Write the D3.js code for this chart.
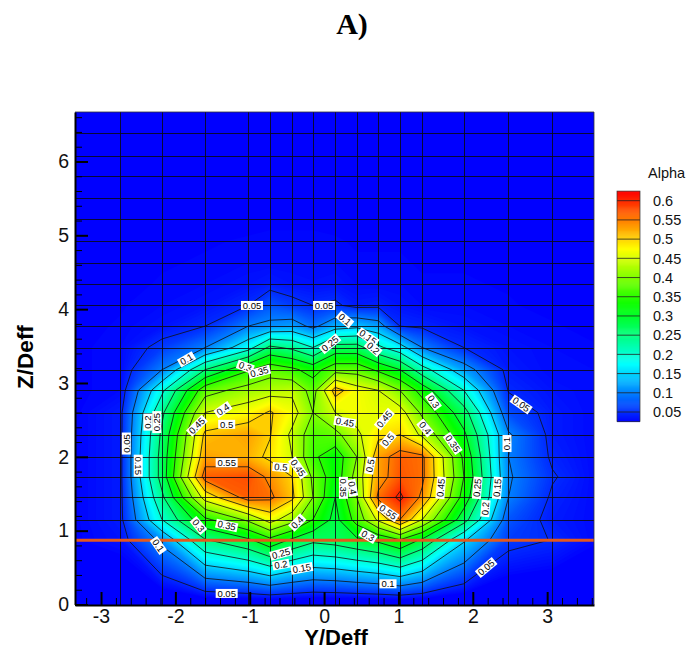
<!DOCTYPE html>
<html><head><meta charset="utf-8">
<script src="https://cdn.jsdelivr.net/npm/d3@7"></script>
<style>html,body{margin:0;padding:0;background:#fff}svg{display:block}text{font-family:"Liberation Sans",Arial,sans-serif}</style>
</head><body><svg id="c" width="690" height="650"></svg>
<script>
const yNodes=[0,.87,1.15,1.45,1.73,2.0,2.3,2.6,2.9,3.18,3.48,3.77,4.05,4.34,4.63,4.92,5.22,5.51,5.8,6.08,6.38,6.67];
const xNodes=[-3.35,-2.745,-2.18,-1.60,-1.02,-.73,-.43,-.15,.15,.44,.73,1.02,1.32,1.88,2.48,3.07,3.63];
const alphaRows=[
[0,0,0,0,0,0,0,0,0,0,0,0,0,0,0,0,0],
[.026,.035,.11,.245,.29,.335,.29,.26,.27,.29,.31,.345,.29,.155,.06,.049,.03],
[.026,.04,.20,.34,.41,.47,.42,.35,.285,.37,.46,.55,.45,.27,.075,.04,.03],
[.026,.04,.24,.47,.57,.56,.51,.40,.30,.40,.56,.61,.54,.33,.10,.045,.03],
[.026,.04,.27,.57,.58,.54,.50,.39,.32,.42,.53,.575,.56,.35,.105,.053,.03],
[.026,.04,.27,.53,.52,.49,.45,.36,.32,.40,.53,.57,.56,.34,.10,.045,.03],
[.026,.04,.26,.51,.53,.503,.44,.37,.385,.44,.49,.50,.44,.31,.105,.04,.03],
[.026,.04,.24,.45,.475,.505,.47,.40,.45,.47,.46,.47,.39,.27,.07,.04,.03],
[.026,.03,.19,.38,.42,.43,.44,.38,.52,.47,.45,.40,.33,.20,.048,.035,.03],
[.026,.03,.10,.25,.345,.38,.36,.33,.38,.38,.34,.30,.22,.12,.04,.03,.03],
[.026,.03,.06,.10,.18,.26,.24,.20,.27,.27,.21,.17,.10,.05,.035,.03,.028],
[.026,.028,.035,.05,.10,.11,.12,.09,.13,.14,.12,.05,.045,.035,.03,.028,.026],
[.026,.027,.03,.035,.05,.075,.06,.05,.055,.04,.043,.035,.03,.03,.028,.026,.026],
[.026,.026,.028,.03,.035,.04,.035,.033,.035,.03,.03,.03,.028,.028,.027,.026,.026],
[.026,.026,.027,.028,.03,.03,.03,.03,.03,.028,.028,.028,.027,.027,.026,.026,.025],
[.025,.026,.026,.027,.028,.028,.028,.028,.028,.027,.027,.027,.026,.026,.026,.025,.025],
[.025,.025,.026,.026,.026,.027,.027,.027,.026,.026,.026,.026,.026,.025,.025,.025,.025],
[.025,.025,.025,.025,.026,.026,.026,.026,.026,.026,.025,.025,.025,.025,.025,.025,.025],
[.025,.025,.025,.025,.025,.025,.025,.025,.025,.025,.025,.025,.025,.025,.025,.025,.025],
[.025,.025,.025,.025,.025,.025,.025,.025,.025,.025,.025,.025,.025,.025,.025,.025,.025],
[.025,.025,.025,.025,.025,.025,.025,.025,.025,.025,.025,.025,.025,.025,.025,.025,.025],
[.025,.025,.025,.025,.025,.025,.025,.025,.025,.025,.025,.025,.025,.025,.025,.025,.025]
];
const contourLevels=[.05,.1,.15,.2,.25,.3,.35,.4,.45,.5,.55,.6];
const xTicks=[-3,-2,-1,0,1,2,3];
const yTicks=[0,1,2,3,4,5,6];
const orangeLineZ=.87;
// [text, Y/Deff, Z/Deff, rotation]
const contourLabels=[
["0.05",-.97,4.05,0],["0.05",0,4.05,0],["0.1",-1.85,3.32,-30],["0.3",-1.06,3.22,20],["0.35",-.87,3.15,-15],
["0.4",-1.36,2.64,-35],["0.45",-1.71,2.42,-45],["0.5",-1.31,2.44,0],["0.2",-2.37,2.47,-90],["0.25",-2.25,2.47,-90],
["0.05",-2.66,2.18,-90],["0.15",-2.50,1.88,90],["0.55",-1.31,1.92,0],["0.5",-.58,1.86,5],["0.45",-.35,1.85,55],
["0.3",-1.69,1.07,50],["0.35",-1.31,1.07,12],["0.4",-.36,1.11,-45],["0.1",-2.23,.8,55],["0.25",-.58,.69,-15],
["0.2",-.58,.54,-10],["0.15",-.3,.49,-10],["0.05",-1.31,.15,0],["0.1",.28,3.86,40],["0.15",.59,3.62,35],
["0.2",.66,3.47,40],["0.25",.08,3.53,-40],["0.3",1.47,2.75,55],["0.45",.28,2.47,10],["0.4",1.36,2.39,50],
["0.45",.81,2.51,-50],["0.5",.86,2.23,-50],["0.35",1.73,2.18,55],["0.1",2.46,2.18,-90],["0.05",2.65,2.71,35],
["0.5",.62,1.88,-80],["0.45",1.57,1.58,-85],["0.25",2.06,1.58,-85],["0.15",2.33,1.58,-85],["0.2",2.17,1.3,-85],
["0.55",.86,1.25,35],["0.3",.59,.93,30],["0.1",.86,.28,0],["0.05",2.18,.5,-40],["0.4",.38,1.58,80],["0.35",.26,1.58,90]
];
const title="A)", xTitle="Y/Deff", yTitle="Z/Deff", legendTitle="Alpha";

const svg=d3.select("#c");
const x=d3.scaleLinear().domain([-3.35,3.63]).range([75,594]);
const y=d3.scaleLinear().domain([0,6.67]).range([604.5,112]);
const colour=d3.scaleLinear().domain([.025,.175,.325,.475,.625])
  .range(["#0000ff","#00ffff","#00ff00","#ffff00","#ff0000"]).clamp(true);

const nx=xNodes.length, ny=yNodes.length;
const flat=alphaRows.flat();
const ix=d3.scaleLinear().domain(d3.range(nx).map(i=>i+.5)).range(xNodes.map(x)).clamp(true);
const iy=d3.scaleLinear().domain(d3.range(ny).map(i=>i+.5)).range(yNodes.map(y)).clamp(true);
const path=d3.geoPath(d3.geoTransform({point(a,b){this.stream.point(ix(a),iy(b));}}));
const gen=d3.contours().size([nx,ny]);

svg.append("clipPath").attr("id","pc").append("rect")
  .attr("x",75).attr("y",112).attr("width",519).attr("height",493);
const plot=svg.append("g").attr("clip-path","url(#pc)");
plot.append("rect").attr("x",75).attr("y",112).attr("width",519).attr("height",493).attr("fill",colour(.025));

// continuous flood: closely spaced filled bands
const floodLevels=d3.range(.0275,.63,.0025);
plot.append("g").selectAll("path").data(gen.thresholds(floodLevels)(flat)).join("path")
  .attr("d",path).attr("fill",d=>colour(d.value+.00125)).attr("stroke","none");

// contour lines
plot.append("g").selectAll("path").data(gen.thresholds(contourLevels)(flat)).join("path")
  .attr("d",path).attr("fill","none").attr("stroke","#101010").attr("stroke-width",.8);

// mesh lines
const snap=v=>Math.round(v)+.5;
const mesh=plot.append("g").attr("stroke","#0a0a14").attr("stroke-width",1).attr("stroke-opacity",.85)
  .attr("shape-rendering","crispEdges");
mesh.selectAll("line.v").data(xNodes.slice(1,-1)).join("line").attr("class","v")
  .attr("x1",d=>snap(x(d))).attr("x2",d=>snap(x(d))).attr("y1",112).attr("y2",605);
mesh.selectAll("line.h").data(yNodes.slice(2,-1)).join("line").attr("class","h")
  .attr("x1",75).attr("x2",594).attr("y1",d=>snap(y(d))).attr("y2",d=>snap(y(d)));

plot.append("line").attr("x1",75).attr("x2",594).attr("y1",y(orangeLineZ)).attr("y2",y(orangeLineZ))
  .attr("stroke","#e4581c").attr("stroke-width",2.8);

// contour labels
const lab=svg.append("g").selectAll("g").data(contourLabels).join("g")
  .attr("transform",d=>`translate(${x(d[1])},${y(d[2])}) rotate(${d[3]})`);
lab.append("rect").attr("x",d=>-d[0].length*2.5-1).attr("width",d=>d[0].length*5+2)
  .attr("y",-4.5).attr("height",9).attr("fill","#fff");
lab.append("text").attr("text-anchor","middle").attr("dy",3.3).attr("font-size",9.5).attr("fill","#000").text(d=>d[0]);

// axes
const minorX=d3.range(-3.2,3.61,.2).filter(v=>!xTicks.some(t=>Math.abs(t-v)<.01));
const minorY=d3.range(.2,6.61,.2).filter(v=>!yTicks.some(t=>Math.abs(t-v)<.01));
const ax=svg.append("g").attr("transform","translate(0,605)")
  .call(d3.axisBottom(x).tickValues(xTicks).tickSizeInner(-13).tickSizeOuter(0).tickPadding(4).tickFormat(String));
const ay=svg.append("g").attr("transform","translate(75,0)")
  .call(d3.axisLeft(y).tickValues(yTicks).tickSizeInner(-13).tickSizeOuter(0).tickPadding(6).tickFormat(String));
[ax,ay].forEach(g=>{g.selectAll("text").attr("font-size",19.5).attr("font-family","Liberation Sans").attr("fill","#111");
  g.selectAll("line").attr("stroke","#000").attr("stroke-width",2);
  g.select(".domain").attr("stroke","#000").attr("stroke-width",2);});
const mx=svg.append("g").attr("transform","translate(0,605)")
  .call(d3.axisBottom(x).tickValues(minorX).tickSizeInner(-7).tickSizeOuter(0).tickFormat(""));
const my=svg.append("g").attr("transform","translate(75,0)")
  .call(d3.axisLeft(y).tickValues(minorY).tickSizeInner(-7).tickSizeOuter(0).tickFormat(""));
[mx,my].forEach(g=>{g.select(".domain").remove();g.selectAll("line").attr("stroke","#000").attr("stroke-width",1);});
svg.append("path").attr("d","M75,112H594V605").attr("fill","none").attr("stroke","#333").attr("stroke-width",.8);

// titles
svg.append("text").attr("x",352).attr("y",34).attr("text-anchor","middle").attr("font-size",30)
  .attr("font-weight","bold").style("font-family","'Liberation Serif',serif").text(title);
svg.append("text").attr("x",336).attr("y",645).attr("text-anchor","middle").attr("font-size",22)
  .attr("font-weight","bold").text(xTitle);
svg.append("text").attr("transform","translate(33,357) rotate(-90)").attr("text-anchor","middle").attr("font-size",22.5)
  .attr("font-weight","bold").text(yTitle);

// legend
const ly=d3.scaleLinear().domain([.05,.6]).range([412,200.7]);
const lg=svg.append("g");
const legendSteps=d3.range(.025,.625,.0025);
lg.selectAll("rect").data(legendSteps).join("rect").attr("x",617).attr("width",23)
  .attr("y",d=>ly(d+.0025)).attr("height",d=>ly(d)-ly(d+.0025)+.5).attr("fill",d=>colour(d+.00125));
lg.selectAll("line").data(contourLevels).join("line").attr("x1",617).attr("x2",640)
  .attr("y1",ly).attr("y2",ly).attr("stroke","#222").attr("stroke-width",.8);
lg.append("rect").attr("x",617).attr("width",23).attr("y",ly(.625)).attr("height",ly(.025)-ly(.625))
  .attr("fill","none").attr("stroke","#333").attr("stroke-width",.7);
lg.selectAll("text").data(contourLevels).join("text").attr("x",653).attr("y",ly).attr("dy",5.2)
  .attr("font-size",14.5).attr("fill","#111").text(d=>d3.format(".2~f")(d));
svg.append("text").attr("x",648).attr("y",178).attr("font-size",14.5).attr("fill","#111").text(legendTitle);
</script></body></html>
